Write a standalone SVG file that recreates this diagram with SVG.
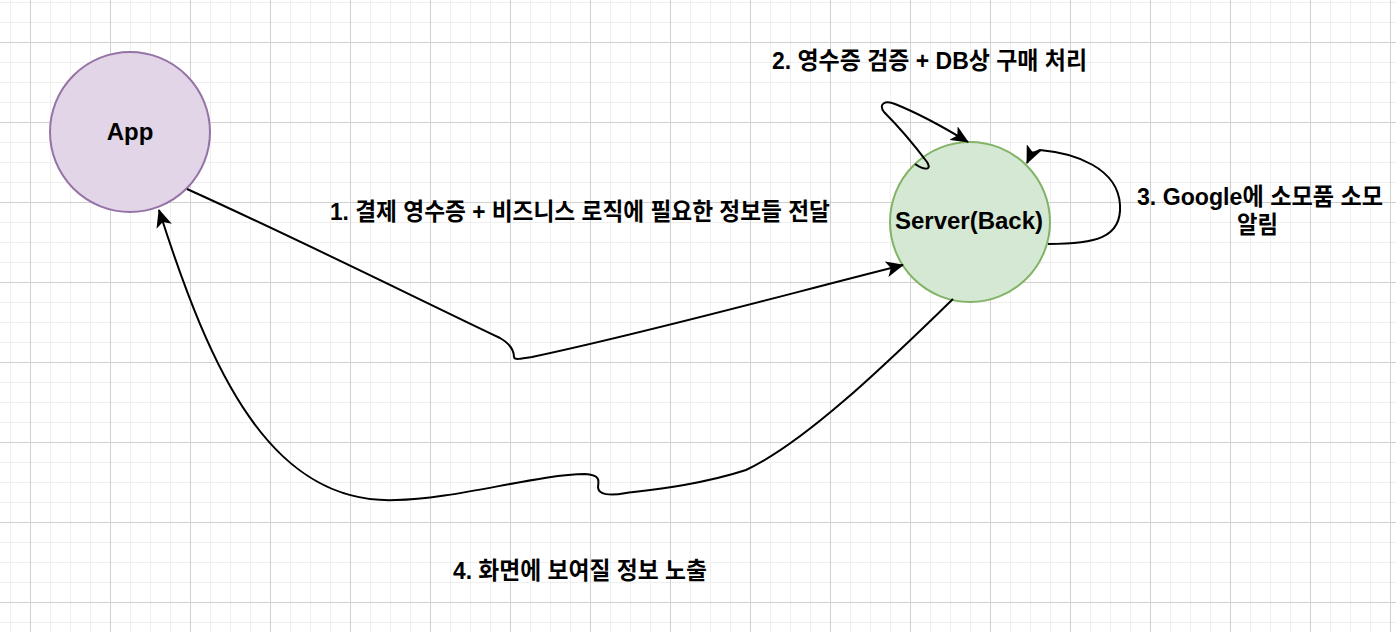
<svg xmlns="http://www.w3.org/2000/svg" width="1396" height="632" viewBox="0 0 1396 632">
  <style>
    .lbl { font-family: 'Liberation Sans', 'Noto Sans CJK KR', sans-serif; font-weight: bold; font-size: 24px; fill: #000000; }
    .edge { fill: none; stroke: #000000; stroke-width: 2; }
  </style>
  <defs>
    <pattern id="grid" patternUnits="userSpaceOnUse" x="30" y="42" width="80" height="80">
      <path d="M20.5,0V80M40.5,0V80M60.5,0V80M0,20.5H80M0,40.5H80M0,60.5H80" stroke="#efefef" stroke-width="1" fill="none"/>
      <path d="M0.5,0V80M0,0.5H80" stroke="#d0d0d0" stroke-width="1" fill="none"/>
    </pattern>
    <marker id="arrow" markerUnits="userSpaceOnUse" viewBox="0 0 18 16" markerWidth="18" markerHeight="16" refX="17" refY="8" orient="auto">
      <path d="M18,8L0,0L4.5,8L0,16Z" fill="#000000"/>
    </marker>
  </defs>

  <rect x="0" y="0" width="1396" height="632" fill="#ffffff"/>
  <rect x="0" y="0" width="1396" height="632" fill="url(#grid)"/>

  <g id="node-app">
    <circle cx="130" cy="132" r="80" fill="#e1d5e7" stroke="#9673a6" stroke-width="2"/>
    <text class="lbl" x="130" y="140" text-anchor="middle">App</text>
  </g>

  <g id="node-server">
    <circle cx="970" cy="222" r="80" fill="#d5e8d4" stroke="#82b366" stroke-width="2"/>
    <text class="lbl" x="969" y="229" text-anchor="middle">Server(Back)</text>
  </g>

  <g id="connectors">
    <path id="edge1" class="edge" marker-end="url(#arrow)" d="M187,189 C300,240 420,300 500,338 C512,345 514,352 514,357 C514,360 520,359 532,357 C650,332 780,296 903,265"/>
    <path id="edge2" class="edge" marker-end="url(#arrow)" d="M915,164 C922,169 933,172 927,162 C912,142 892,120 884,112 C878,104 885,100 895,104 C920,114 945,128 968,142"/>
    <path id="edge3" class="edge" marker-end="url(#arrow)" d="M1048,244 C1095,244 1122,238 1120,205 C1118,168 1075,153 1040,150 Q1032,152 1027,163"/>
    <path id="edge4" class="edge" marker-end="url(#arrow)" d="M953,299 C900,350 810,440 746,470 C700,485 650,490 626,493 C610,496 598,495 598,487 C599,480 600,475 585,474 C540,474 450,500 396,500 C270,505 210,370 159,210"/>
  </g>

  <g id="label-1">
    <text class="lbl" x="330" y="219.5" textLength="500" lengthAdjust="spacingAndGlyphs">1. 결제 영수증 + 비즈니스 로직에 필요한 정보들 전달</text>
  </g>
  <g id="label-2">
    <text class="lbl" x="772" y="69" textLength="315" lengthAdjust="spacingAndGlyphs">2. 영수증 검증 + DB상 구매 처리</text>
  </g>
  <g id="label-3">
    <text class="lbl" x="1137" y="205" textLength="246" lengthAdjust="spacingAndGlyphs">3. Google에 소모품 소모</text>
    <text class="lbl" x="1237" y="233" textLength="41" lengthAdjust="spacingAndGlyphs">알림</text>
  </g>
  <g id="label-4">
    <text class="lbl" x="453" y="579" textLength="254" lengthAdjust="spacingAndGlyphs">4. 화면에 보여질 정보 노출</text>
  </g>
</svg>
